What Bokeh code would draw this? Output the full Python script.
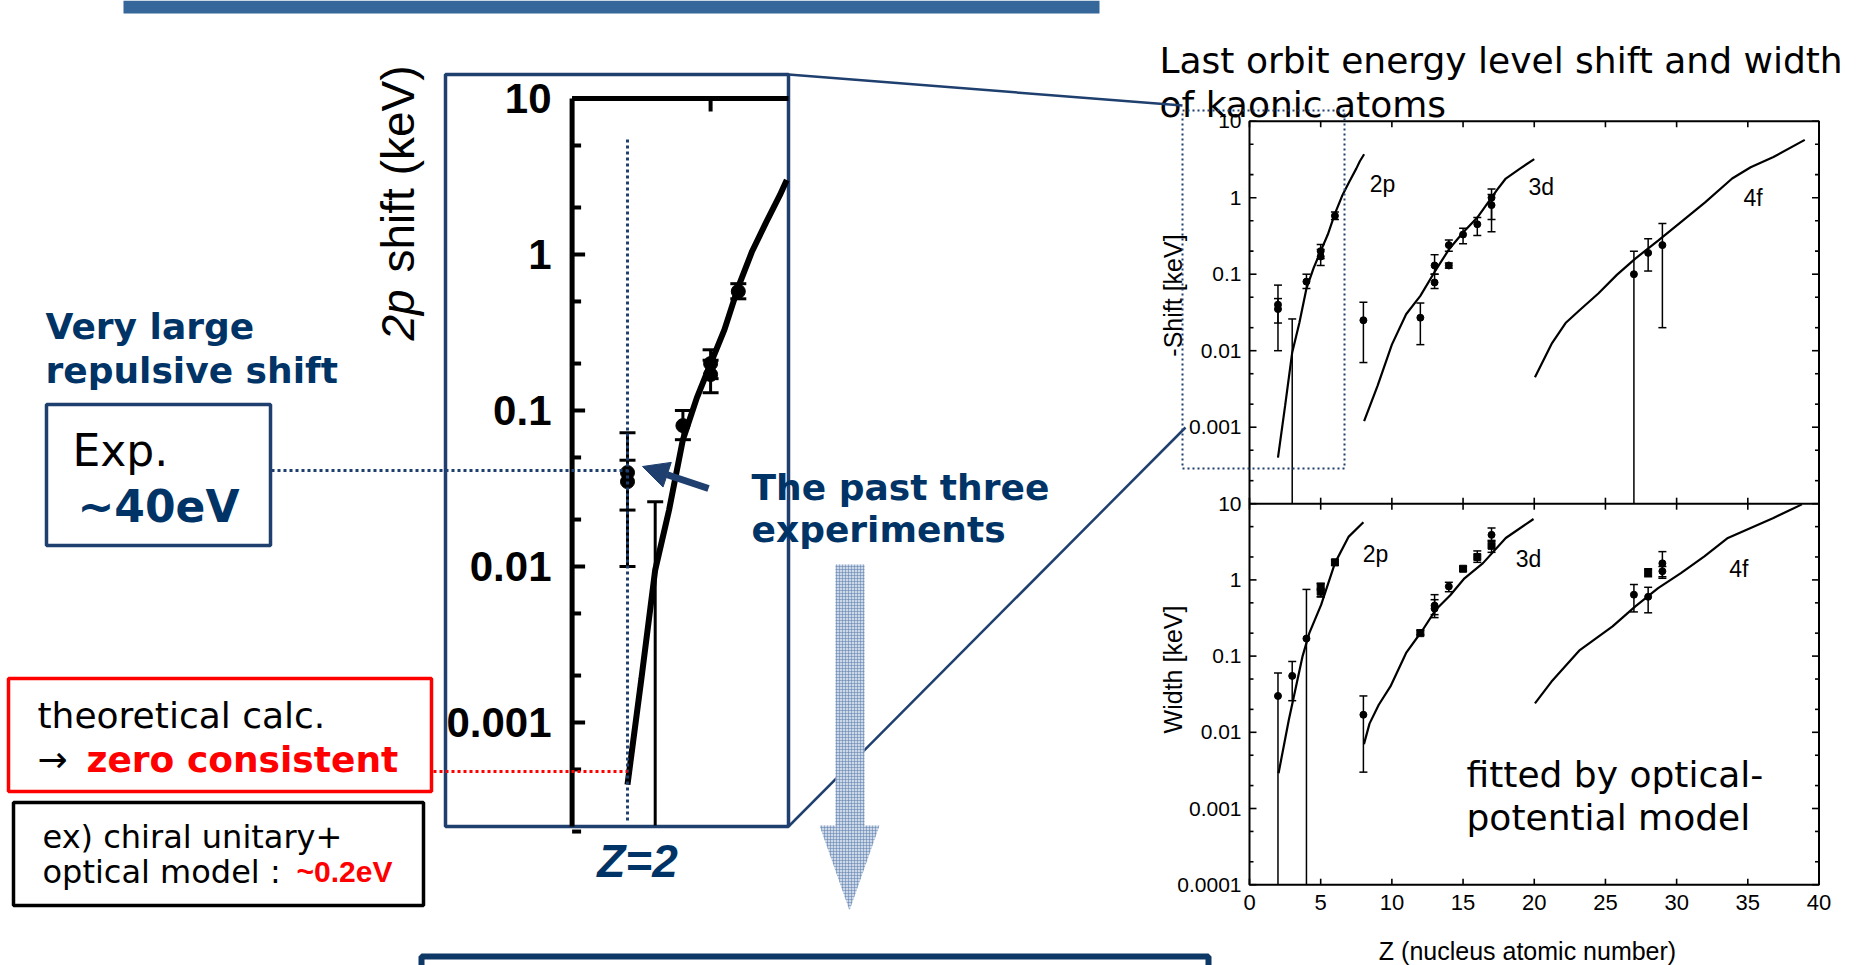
import numpy as np
from bokeh.plotting import figure
from bokeh.models import Range1d, LogScale, ColumnDataSource, Arrow, NormalHead
from bokeh.core.properties import value
from bokeh.embed import file_html
from bokeh.resources import INLINE

# ---------------- data ----------------
# -Shift [keV]: optical-potential fits
shift_2p_z = [2.0, 2.5, 3.0, 3.5, 4.0, 4.5, 5.0, 5.5, 6.0, 6.5, 7.0, 7.5, 7.75, 8.05]
shift_2p_v = [0.0004, 0.0019, 0.0095, 0.023, 0.065, 0.12, 0.2, 0.33, 0.62, 1.05, 1.6, 2.4, 3.0, 3.7]
shift_3d_z = [8.05, 9.0, 10.0, 11.0, 12.0, 13.0, 14.0, 15.0, 16.0, 17.0, 17.5, 18.0, 19.0, 20.0]
shift_3d_v = [0.0012, 0.0035, 0.012, 0.03, 0.052, 0.107, 0.21, 0.35, 0.55, 1.0, 1.35, 1.78, 2.4, 3.2]
shift_4f_z = [20.05, 21.25, 22.2, 23.2, 24.5, 25.8, 27.1, 28.7, 30.3, 32.0, 33.9, 35.2, 36.8, 39.0]
shift_4f_v = [0.0045, 0.0126, 0.023, 0.034, 0.056, 0.098, 0.16, 0.275, 0.48, 0.87, 1.78, 2.5, 3.4, 5.7]
# -Shift [keV]: measurements (value, lower and upper end of error bar; 0 = below the axis)
shift_pt_z = [2, 2, 3, 4, 5, 5, 6, 8, 12, 13, 13, 14, 14, 15, 16, 17, 17, 27, 28, 29]
shift_pt_v = [0.04, 0.035, np.nan, 0.08, 0.2, 0.17, 0.58, 0.025, 0.027, 0.13, 0.078, 0.13, 0.24,
              0.33, 0.45, 1.0, 0.8, 0.1, 0.19, 0.24]
shift_pt_lo = [0.01, 0.023, 0.0, 0.065, 0.16, 0.13, 0.52, 0.007, 0.012, 0.1, 0.065, 0.12, 0.2,
               0.25, 0.32, 0.52, 0.36, 0.0, 0.11, 0.02]
shift_pt_hi = [0.072, 0.048, 0.026, 0.1, 0.245, 0.21, 0.65, 0.043, 0.042, 0.18, 0.1, 0.14, 0.28,
               0.4, 0.55, 1.3, 1.1, 0.2, 0.29, 0.46]
shift_pt_m = ["circle"] * 20

# Width [keV]: optical-potential fits
width_2p_z = [2.04, 2.76, 3.73, 4.2, 5.03, 6.0, 6.97, 8.0]
width_2p_v = [0.0029, 0.0145, 0.1, 0.2, 0.47, 1.66, 3.7, 5.7]
width_3d_z = [8.04, 8.43, 9.08, 9.9, 11.0, 12.16, 13.1, 14.1, 15.1, 16.4, 18.0, 19.95]
width_3d_v = [0.007, 0.013, 0.023, 0.04, 0.11, 0.22, 0.41, 0.63, 1.05, 1.66, 3.55, 6.3]
width_4f_z = [20.05, 21.2, 23.2, 25.5, 27.1, 28.7, 30.3, 31.95, 33.6, 35.2, 36.8, 38.8]
width_4f_v = [0.024, 0.046, 0.12, 0.245, 0.45, 0.78, 1.23, 2.04, 3.55, 4.8, 6.5, 9.8]
# Width [keV]: measurements
width_pt_z = [2, 3, 4, 5, 5, 6, 8, 12, 13, 13, 14, 15, 16, 17, 17, 27, 28, 28, 29, 29]
width_pt_v = [0.03, 0.055, 0.17, 0.8, 0.7, 1.7, 0.017, 0.2, 0.46, 0.42, 0.82, 1.4, 2.0, 3.9, 2.8,
              0.64, 0.6, 1.25, 1.65, 1.3]
width_pt_lo = [0.0, 0.026, 0.0, 0.6, 0.6, 1.55, 0.003, 0.19, 0.32, 0.35, 0.7, 1.3, 1.7, 3.2, 2.3,
               0.38, 0.37, 1.1, 1.05, 1.1]
width_pt_hi = [0.06, 0.085, 0.75, 0.9, 0.9, 1.85, 0.03, 0.22, 0.64, 0.55, 0.93, 1.5, 2.4, 4.8, 3.3,
               0.87, 0.8, 1.4, 2.35, 1.5]
width_pt_m = ["circle", "circle", "circle", "square", "square", "square", "circle", "square",
              "circle", "circle", "circle", "square", "square", "circle", "square",
              "circle", "circle", "square", "circle", "circle"]

# tick values and labels
x_ticks = [0, 5, 10, 15, 20, 25, 30, 35, 40]
x_tick_labels = ["0", "5", "10", "15", "20", "25", "30", "35", "40"]
up_ticks = [10, 1, 0.1, 0.01, 0.001]
up_tick_labels = ["10", "1", "0.1", "0.01", "0.001"]
lo_ticks = [10, 1, 0.1, 0.01, 0.001, 0.0001]
lo_tick_labels = ["10", "1", "0.1", "0.01", "0.001", "0.0001"]
in_ticks = [10, 1, 0.1, 0.01, 0.001]
in_tick_labels = ["10", "1", "0.1", "0.01", "0.001"]
minor_mult = [2, 5]
highlight_z = 2          # Z = 2 (kaonic helium)
inset_z_max = 7.8        # right edge of the magnified view

# ---------------- page ----------------
W, H = 1874, 965
NAVY = "#003366"
NAVY_L = "#1F3F6F"
DJ = "DejaVu Sans"
AR = "Liberation Sans"

p = figure(width=W, height=H, x_range=Range1d(0, W), y_range=Range1d(H, 0),
           output_backend="svg", toolbar_location=None, min_border=0,
           x_axis_location=None, y_axis_location=None)
p.grid.visible = False
p.outline_line_color = None
p.background_fill_color = "white"
p.border_fill_color = "white"

# panels: name -> geometry (pixel position of Z=0, px per Z, pixel of 10 keV, px per decade)
PAN = {
    "up": dict(x0=1249.0, kz=14.2375, ytop=120.7, kd=76.5, ymin=1e-4),
    "lo": dict(x0=1249.0, kz=14.2375, ytop=503.2, kd=76.2, ymin=1e-4),
    "in": dict(x0=571.6, kz=27.7, ytop=98.0, kd=156.0, ymin=10 ** -3.66),
}
for name, g in PAN.items():
    p.extra_x_ranges[name] = Range1d(start=-g["x0"] / g["kz"], end=(W - g["x0"]) / g["kz"])
    p.extra_y_ranges[name] = Range1d(start=10 ** (1 - (H - g["ytop"]) / g["kd"]),
                                     end=10 ** (1 + g["ytop"] / g["kd"]))
    p.extra_y_scales[name] = LogScale()


def txt(x, y, s, size, color="black", style="normal", font=DJ, align="left",
        baseline="middle", angle=0.0, xr="default", yr="default"):
    p.text(x=[x], y=[y], text=[s], text_font=value(font), text_font_size=f"{size}px",
           text_font_style=style, text_color=color, text_align=align,
           text_baseline=baseline, angle=angle, x_range_name=xr, y_range_name=yr)


def box(l, r, t, b, color, lw, dash="solid"):
    p.quad(left=[l], right=[r], top=[t], bottom=[b], fill_color=None,
           line_color=color, line_width=lw, line_dash=dash)


def curve(name, z, v, lw):
    p.line(z, v, x_range_name=name, y_range_name=name, line_color="black", line_width=lw)


def points(name, z, v, lo, hi, m, lw, cap, size):
    g = PAN[name]
    z = np.asarray(z, float); v = np.asarray(v, float)
    lo = np.asarray(lo, float); hi = np.asarray(hi, float)
    loc = np.maximum(lo, g["ymin"])
    dz = cap / g["kz"]
    kw = dict(x_range_name=name, y_range_name=name, line_color="black", line_width=lw)
    p.segment(x0=z, y0=loc, x1=z, y1=hi, **kw)
    p.segment(x0=z - dz, y0=hi, x1=z + dz, y1=hi, **kw)
    ok = lo >= g["ymin"]
    p.segment(x0=z[ok] - dz, y0=lo[ok], x1=z[ok] + dz, y1=lo[ok], **kw)
    good = ~np.isnan(v)
    src = ColumnDataSource(dict(z=z[good], v=v[good], m=np.asarray(m)[good]))
    p.scatter(x="z", y="v", marker="m", size=size, source=src, color="black",
              x_range_name=name, y_range_name=name)


# ---------------- right-hand figure: shift and width ----------------
up, lo_ = PAN["up"], PAN["lo"]
xl, xr = up["x0"], up["x0"] + 40 * up["kz"]
ybot = lo_["ytop"] + 5 * lo_["kd"]
box(xl, xr, up["ytop"], ybot, "black", 2)
p.segment(x0=[xl], y0=[lo_["ytop"]], x1=[xr], y1=[lo_["ytop"]], line_color="black", line_width=2)

for name, ticks, labels, top, bot in (("up", up_ticks, up_tick_labels, up["ytop"], lo_["ytop"]),
                                      ("lo", lo_ticks, lo_tick_labels, lo_["ytop"], ybot)):
    decs = [t for t in ticks if t < 10] + ([1e-4] if min(ticks) > 1e-4 else [])
    minor = [d * mm for d in decs for mm in minor_mult]
    kw = dict(y_range_name=name, line_color="black", line_width=1.6)
    p.segment(x0=[xl] * len(ticks), y0=ticks, x1=[xl + 7] * len(ticks), y1=ticks, **kw)
    p.segment(x0=[xr] * len(ticks), y0=ticks, x1=[xr - 7] * len(ticks), y1=ticks, **kw)
    p.segment(x0=[xl] * len(minor), y0=minor, x1=[xl + 4] * len(minor), y1=minor, **kw)
    p.segment(x0=[xr] * len(minor), y0=minor, x1=[xr - 4] * len(minor), y1=minor, **kw)
    kx = dict(x_range_name=name, line_color="black", line_width=1.6)
    n = len(x_ticks)
    p.segment(x0=x_ticks, y0=[top] * n, x1=x_ticks, y1=[top + 6] * n, **kx)
    p.segment(x0=x_ticks, y0=[bot] * n, x1=x_ticks, y1=[bot - 6] * n, **kx)
    p.text(x=[1241] * len(ticks), y=ticks, text=labels, y_range_name=name,
           text_font=value(AR), text_font_size="21px", text_align="right",
           text_baseline="middle", text_color="black")

p.text(x=x_ticks, y=[902] * len(x_ticks), text=x_tick_labels, x_range_name="lo",
       text_font=value(AR), text_font_size="22px", text_align="center",
       text_baseline="middle", text_color="black")

txt(1172, 295, "-Shift [keV]", 25, font=AR, align="center", angle=np.pi / 2)
txt(1172, 669, "Width [keV]", 25, font=AR, align="center", angle=np.pi / 2)
txt(1527, 950, "Z (nucleus atomic number)", 25, font=AR, align="center")

for z, v in ((shift_2p_z, shift_2p_v), (shift_3d_z, shift_3d_v), (shift_4f_z, shift_4f_v)):
    curve("up", z, v, 2.2)
for z, v in ((width_2p_z, width_2p_v), (width_3d_z, width_3d_v), (width_4f_z, width_4f_v)):
    curve("lo", z, v, 2.2)
points("up", shift_pt_z, shift_pt_v, shift_pt_lo, shift_pt_hi, shift_pt_m, 1.5, 4, 7)
points("lo", width_pt_z, width_pt_v, width_pt_lo, width_pt_hi, width_pt_m, 1.5, 4, 7)

for name, (z, v, s) in (("up", (8.45, 1.5, "2p")), ("up", (19.6, 1.4, "3d")), ("up", (34.7, 0.98, "4f")),
                        ("lo", (7.95, 2.2, "2p")), ("lo", (18.7, 1.9, "3d")), ("lo", (33.7, 1.4, "4f"))):
    txt(z, v, s, 23, font=AR, xr=name, yr=name)

txt(1466, 774, "fitted by optical-", 36)
txt(1466, 817, "potential model", 36)
txt(1159, 60, "Last orbit energy level shift and width", 36)
txt(1159, 104, "of kaonic atoms", 36)

# dotted zoom rectangle and connecting lines
box(1182, 1344, 110, 468, NAVY_L, 2, "2 3")
p.line([788, 1182], [74, 105], line_color=NAVY_L, line_width=2.5)
p.line([788, 1185], [826, 427], line_color=NAVY_L, line_width=2.5)

# ---------------- magnified inset (2p shift) ----------------
g = PAN["in"]
ix0 = g["x0"]
box(445, 788, 74, 826, NAVY_L, 3.5)
mask = np.asarray(shift_2p_z) <= inset_z_max
curve("in", np.asarray(shift_2p_z)[mask], np.asarray(shift_2p_v)[mask], 6)
sel = np.asarray(shift_pt_z) <= inset_z_max
points("in", np.asarray(shift_pt_z)[sel], np.asarray(shift_pt_v)[sel], np.asarray(shift_pt_lo)[sel],
       np.asarray(shift_pt_hi)[sel], np.asarray(shift_pt_m)[sel], 3, 8, 14)
# inset axes
p.segment(x0=[ix0], y0=[g["ytop"]], x1=[788], y1=[g["ytop"]], line_color="black", line_width=5)
p.segment(x0=[ix0], y0=[g["ytop"]], x1=[ix0], y1=[826], line_color="black", line_width=5)
in_minor = [d * mm for d in [t for t in in_ticks if t < 10] + [1e-4] for mm in minor_mult]
p.segment(x0=[ix0] * len(in_ticks), y0=in_ticks, x1=[ix0 + 13] * len(in_ticks), y1=in_ticks,
          y_range_name="in", line_color="black", line_width=4)
p.segment(x0=[ix0] * len(in_minor), y0=in_minor, x1=[ix0 + 9] * len(in_minor), y1=in_minor,
          y_range_name="in", line_color="black", line_width=4)
p.segment(x0=[5], y0=[g["ytop"]], x1=[5], y1=[g["ytop"] + 13], x_range_name="in",
          line_color="black", line_width=4)
p.text(x=[551] * len(in_ticks), y=in_ticks, text=in_tick_labels, y_range_name="in",
       text_font=value(AR), text_font_size="42px", text_font_style="bold", text_align="right",
       text_baseline="middle", text_color="black")
txt(397, 340, "2p", 46, font=AR, style="italic", angle=np.pi / 2)
txt(397, 272, "shift (keV)", 46, font=AR, angle=np.pi / 2)

# highlight of Z = 2
p.segment(x0=[highlight_z], y0=[139], x1=[highlight_z], y1=[823], x_range_name="in",
          line_color=NAVY_L, line_width=3, line_dash="3 3")
p.segment(x0=[271], y0=[470], x1=[627], y1=[470], line_color=NAVY_L, line_width=3, line_dash="3 3")
p.segment(x0=[433], y0=[771], x1=[627], y1=[771], line_color="#FF0000", line_width=3, line_dash="3 3")
p.add_layout(Arrow(end=NormalHead(size=26, fill_color=NAVY_L, line_color=NAVY_L),
                   x_start=708, y_start=488, x_end=642, y_end=466,
                   line_width=7, line_color=NAVY_L))
txt(637, 860, "Z=2", 46, color=NAVY, style="bold italic", font=AR, align="center")
txt(751, 487, "The past three", 36, color=NAVY, style="bold")
txt(751, 529, "experiments", 36, color=NAVY, style="bold")

# ---------------- left annotations ----------------
txt(45, 326, "Very large", 36, color=NAVY, style="bold")
txt(45, 370, "repulsive shift", 36, color=NAVY, style="bold")
box(46, 270, 404, 545, NAVY_L, 3.5)
txt(72, 450, "Exp.", 44)
txt(77, 506, "~40eV", 44, color=NAVY, style="bold")
box(8, 431, 678, 791, "#FF0000", 3.5)
txt(37, 715, "theoretical calc.", 36)
txt(37, 759, "\u2192", 36)
txt(86, 759, "zero consistent", 36, color="#FF0000", style="bold")
box(13, 423, 802, 905, "black", 3.5)
txt(42, 836, "ex) chiral unitary+", 32)
txt(42, 871, "optical model : ", 32)
txt(296, 871, "~0.2eV", 30, color="#FF0000", style="bold", font=AR)

# ---------------- decorations ----------------
p.quad(left=[123], right=[1099], top=[0], bottom=[13], fill_color="#35679A", line_color=None)
p.quad(left=[421], right=[1208], top=[956], bottom=[1000], fill_color=None,
       line_color="#0E3866", line_width=6)
p.patch([835, 864, 864, 879, 849, 819, 835], [564, 564, 825, 825, 910, 825, 825],
        fill_color="#CCD7E8", line_color=None, hatch_pattern="cross",
        hatch_color="#5A7BAA", hatch_scale=3, hatch_alpha=0.5)

open("out.html", "w").write(file_html(p, INLINE))
